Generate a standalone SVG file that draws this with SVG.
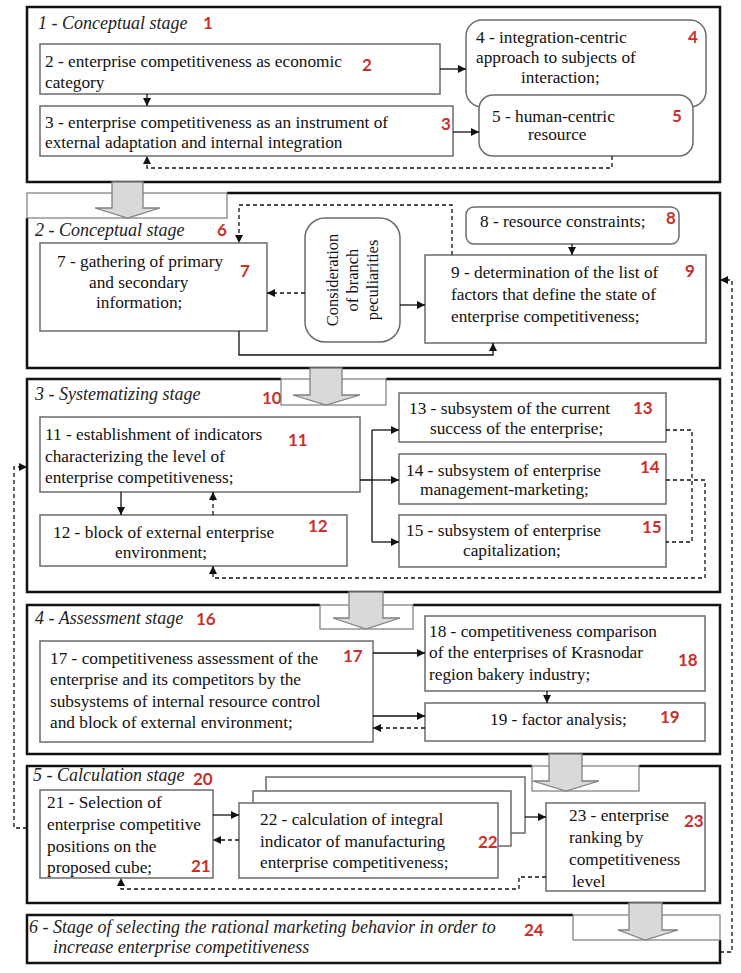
<svg xmlns="http://www.w3.org/2000/svg" width="741" height="973" viewBox="0 0 741 973">
<style>
.frame{fill:none;stroke:#111;stroke-width:2.5}
.notch{fill:#fff;stroke:#7a7a7a;stroke-width:1.2}
.box{fill:#fff;stroke:#6b6b6b;stroke-width:1.5}
.t{font-family:"Liberation Serif","Times New Roman",serif;font-size:17.3px;fill:#111}
.ti{font-family:"Liberation Serif","Times New Roman",serif;font-size:18px;font-style:italic;fill:#222}
.n{font-family:Lato,"Liberation Sans",sans-serif;font-weight:bold;font-size:17px;fill:#c8302c}
.c{fill:none;stroke:#111;stroke-width:1.3}
.d{stroke-dasharray:4 3}
.g{fill:#d9d9d9;stroke:#808080;stroke-width:1.3}
</style>
<defs>
<marker id="ah" markerUnits="userSpaceOnUse" markerWidth="8" markerHeight="8" refX="8" refY="4" orient="auto">
<path d="M0,0 L8,4 L0,8 z" fill="#111"/>
</marker>
</defs>
<rect width="741" height="973" fill="#fff"/>

<!-- stage frames -->
<g id="stage1">
<rect class="frame" x="27" y="7" width="693" height="175"/>
<text class="ti" x="38" y="29">1 - Conceptual stage</text>
<text class="n" x="203" y="29">1</text>
</g>
<g id="stage2">
<path class="frame" d="M227 193 H720 V368 H27 V218"/>
<text class="ti" x="35" y="236">2 - Conceptual stage</text>
<text class="n" x="217" y="236">6</text>
</g>
<g id="stage3">
<path class="frame" d="M281 379 H27 V592 H720 V379 H386"/>
<text class="ti" x="35" y="400">3 - Systematizing stage</text>
<text class="n" x="262" y="404">10</text>
</g>
<g id="stage4">
<path class="frame" d="M320 605 H27 V754 H720 V605 H413"/>
<text class="ti" x="35" y="624">4 - Assessment stage</text>
<text class="n" x="196" y="625">16</text>
</g>
<g id="stage5">
<path class="frame" d="M532 766 H27 V903 H720 V766 H639"/>
<text class="ti" x="33" y="781">5 - Calculation stage</text>
<text class="n" x="193" y="785">20</text>
</g>
<g id="stage6">
<path class="frame" d="M573 915 H27 V963 H720 V940"/>
<text class="ti" x="29" y="933">6 - Stage of selecting the rational marketing behavior in order to</text>
<text class="ti" x="53" y="953">increase enterprise competitiveness</text>
<text class="n" x="524" y="936">24</text>
</g>

<!-- transition arrows -->
<g id="transitions">
<rect class="notch" x="27" y="193" width="200" height="25"/>
<polygon class="g" points="112,182 143,182 143,208 160,208 127.5,218 95,208 112,208"/>
<rect class="notch" x="281" y="379" width="105" height="26"/>
<polygon class="g" points="310,368 342,368 342,395 360,395 326,405 293,395 310,395"/>
<rect class="notch" x="320" y="605" width="93" height="24"/>
<polygon class="g" points="349,592 383,592 383,618 400,618 366,629 333,618 349,618"/>
<rect class="notch" x="532" y="766" width="107" height="25"/>
<polygon class="g" points="549,754 582,754 582,781 599,781 566,791 533,781 549,781"/>
<rect class="notch" x="573" y="915" width="147" height="25"/>
<polygon class="g" points="629,903 662,903 662,930 678,930 645,940 618,930 629,930"/>
</g>

<!-- stage 1 nodes -->
<g id="n2">
<rect class="box" x="40" y="44" width="400" height="50"/>
<text class="t" x="45" y="67">2 - enterprise competitiveness as economic</text>
<text class="t" x="45" y="88">category</text>
<text class="n" x="362" y="71">2</text>
</g>
<g id="n3">
<rect class="box" x="40" y="106" width="413" height="50"/>
<text class="t" x="45" y="128">3 - enterprise competitiveness as an instrument of</text>
<text class="t" x="45" y="148">external adaptation and internal integration</text>
<text class="n" x="441" y="130">3</text>
</g>
<g id="n4">
<rect class="box" x="466" y="20" width="240" height="87" rx="16"/>
<text class="t" x="476" y="43">4 - integration-centric</text>
<text class="t" x="476" y="63">approach to subjects of</text>
<text class="t" x="521" y="83">interaction;</text>
<text class="n" x="688" y="43">4</text>
</g>
<g id="n5">
<rect class="box" x="479" y="95" width="214" height="61" rx="14"/>
<text class="t" x="492" y="122">5 - human-centric</text>
<text class="t" x="528" y="140">resource</text>
<text class="n" x="672" y="122">5</text>
</g>

<!-- stage 2 nodes -->
<g id="n7">
<rect class="box" x="40" y="243" width="227" height="88"/>
<text class="t" x="57" y="267">7 - gathering of primary</text>
<text class="t" x="89" y="288">and secondary</text>
<text class="t" x="96" y="308">information;</text>
<text class="n" x="240" y="277">7</text>
</g>
<g id="nbranch">
<rect class="box" x="305" y="218" width="95" height="124" rx="20"/>
<text class="t" style="font-size:16.5px" text-anchor="middle" transform="rotate(-90 338 280)" x="338" y="280">Consideration</text>
<text class="t" style="font-size:16.5px" text-anchor="middle" transform="rotate(-90 358 280)" x="358" y="280">of branch</text>
<text class="t" style="font-size:16.5px" text-anchor="middle" transform="rotate(-90 378 280)" x="378" y="280">peculiarities</text>
</g>
<g id="n8">
<rect class="box" x="466" y="207" width="213" height="37" rx="8"/>
<text class="t" x="480" y="227">8 - resource constraints;</text>
<text class="n" x="666" y="224">8</text>
</g>
<g id="n9">
<rect class="box" x="425" y="255" width="281" height="88"/>
<text class="t" x="451" y="278">9 - determination of the list of</text>
<text class="t" x="451" y="300">factors that define the state of</text>
<text class="t" x="451" y="322">enterprise competitiveness;</text>
<text class="n" x="685" y="277">9</text>
</g>

<!-- stage 3 nodes -->
<g id="n11">
<rect class="box" x="40" y="417" width="320" height="75"/>
<text class="t" x="45" y="440">11 - establishment of indicators</text>
<text class="t" x="45" y="462">characterizing the level of</text>
<text class="t" x="45" y="483">enterprise competitiveness;</text>
<text class="n" x="288" y="446">11</text>
</g>
<g id="n12">
<rect class="box" x="40" y="515" width="307" height="51"/>
<text class="t" x="53" y="538">12 - block of external enterprise</text>
<text class="t" x="115" y="558">environment;</text>
<text class="n" x="308" y="532">12</text>
</g>
<g id="n13">
<rect class="box" x="399" y="393" width="267" height="49"/>
<text class="t" x="409" y="414">13 - subsystem of the current</text>
<text class="t" x="430" y="434">success of the enterprise;</text>
<text class="n" x="633" y="414">13</text>
</g>
<g id="n14">
<rect class="box" x="399" y="454" width="267" height="50"/>
<text class="t" x="406" y="476">14 - subsystem of enterprise</text>
<text class="t" x="420" y="495">management-marketing;</text>
<text class="n" x="640" y="473">14</text>
</g>
<g id="n15">
<rect class="box" x="399" y="515" width="267" height="52"/>
<text class="t" x="406" y="536">15 - subsystem of enterprise</text>
<text class="t" x="463" y="556">capitalization;</text>
<text class="n" x="642" y="533">15</text>
</g>

<!-- stage 4 nodes -->
<g id="n17">
<rect class="box" x="40" y="641" width="333" height="101"/>
<text class="t" x="50" y="664">17 - competitiveness assessment of the</text>
<text class="t" x="50" y="685">enterprise and its competitors by the</text>
<text class="t" x="50" y="707">subsystems of internal resource control</text>
<text class="t" x="50" y="728">and block of external environment;</text>
<text class="n" x="343" y="662">17</text>
</g>
<g id="n18">
<rect class="box" x="425" y="616" width="280" height="75"/>
<text class="t" x="429" y="637">18 - competitiveness comparison</text>
<text class="t" x="429" y="658">of the enterprises of Krasnodar</text>
<text class="t" x="429" y="680">region bakery industry;</text>
<text class="n" x="678" y="666">18</text>
</g>
<g id="n19">
<rect class="box" x="425" y="703" width="280" height="38"/>
<text class="t" x="490" y="725">19 - factor analysis;</text>
<text class="n" x="660" y="723">19</text>
</g>

<!-- stage 5 nodes -->
<g id="n21">
<rect class="box" x="40" y="790" width="173" height="88"/>
<text class="t" x="47" y="808">21 - Selection of</text>
<text class="t" x="47" y="830">enterprise competitive</text>
<text class="t" x="47" y="852">positions on the</text>
<text class="t" x="47" y="873">proposed cube;</text>
<text class="n" x="191" y="872">21</text>
</g>
<g id="n22">
<rect class="box" x="266" y="777" width="259" height="56"/>
<rect class="box" x="253" y="791" width="258" height="55"/>
<rect class="box" x="239" y="803" width="259" height="75"/>
<text class="t" x="260" y="825">22 - calculation of integral</text>
<text class="t" x="260" y="847">indicator of manufacturing</text>
<text class="t" x="260" y="868">enterprise competitiveness;</text>
<text class="n" x="478" y="848">22</text>
</g>
<g id="n23">
<rect class="box" x="546" y="803" width="159" height="88"/>
<text class="t" x="569" y="821">23 - enterprise</text>
<text class="t" x="569" y="843">ranking by</text>
<text class="t" x="569" y="865">competitiveness</text>
<text class="t" x="572" y="887">level</text>
<text class="n" x="684" y="827">23</text>
</g>

<!-- connectors -->
<g id="connectors">
<path class="c" d="M147 94 V106" marker-end="url(#ah)"/>
<path class="c" d="M440 69 H466" marker-end="url(#ah)"/>
<path class="c" d="M453 132 H479" marker-end="url(#ah)"/>
<path class="c d" d="M612 156 V168 H147 V156" marker-end="url(#ah)"/>
<path class="c d" d="M452 255 V205 H239 V243" marker-end="url(#ah)"/>
<path class="c d" d="M305 293 H267" marker-end="url(#ah)"/>
<path class="c" d="M400 305 H425" marker-end="url(#ah)"/>
<path class="c" d="M572 244 V255" marker-end="url(#ah)"/>
<path class="c" d="M239 331 V355 H493 V343" marker-end="url(#ah)"/>
<path class="c d" d="M720 952 H732 V280 H720" marker-end="url(#ah)"/>
<path class="c" d="M360 480 H372 M372 430 V542"/>
<path class="c" d="M372 430 H399" marker-end="url(#ah)"/>
<path class="c" d="M372 480 H399" marker-end="url(#ah)"/>
<path class="c" d="M372 542 H399" marker-end="url(#ah)"/>
<path class="c" d="M121 492 V515" marker-end="url(#ah)"/>
<path class="c d" d="M213 515 V492" marker-end="url(#ah)"/>
<path class="c d" d="M666 480 H705 V578 H213 V566" marker-end="url(#ah)"/>
<path class="c d" d="M666 430 H692 V542 H666"/>
<path class="c d" d="M27 828 H14 V467 H27" marker-end="url(#ah)"/>
<path class="c" d="M373 653 H425" marker-end="url(#ah)"/>
<path class="c" d="M373 716 H425" marker-end="url(#ah)"/>
<path class="c d" d="M425 728 H373" marker-end="url(#ah)"/>
<path class="c" d="M547 691 V703" marker-end="url(#ah)"/>
<path class="c" d="M213 815 H239" marker-end="url(#ah)"/>
<path class="c d" d="M239 840 H213" marker-end="url(#ah)"/>
<path class="c" d="M525 817 H546" marker-end="url(#ah)"/>
<path class="c d" d="M546 877 H519 V889 H121 V878" marker-end="url(#ah)"/>
</g>
</svg>
